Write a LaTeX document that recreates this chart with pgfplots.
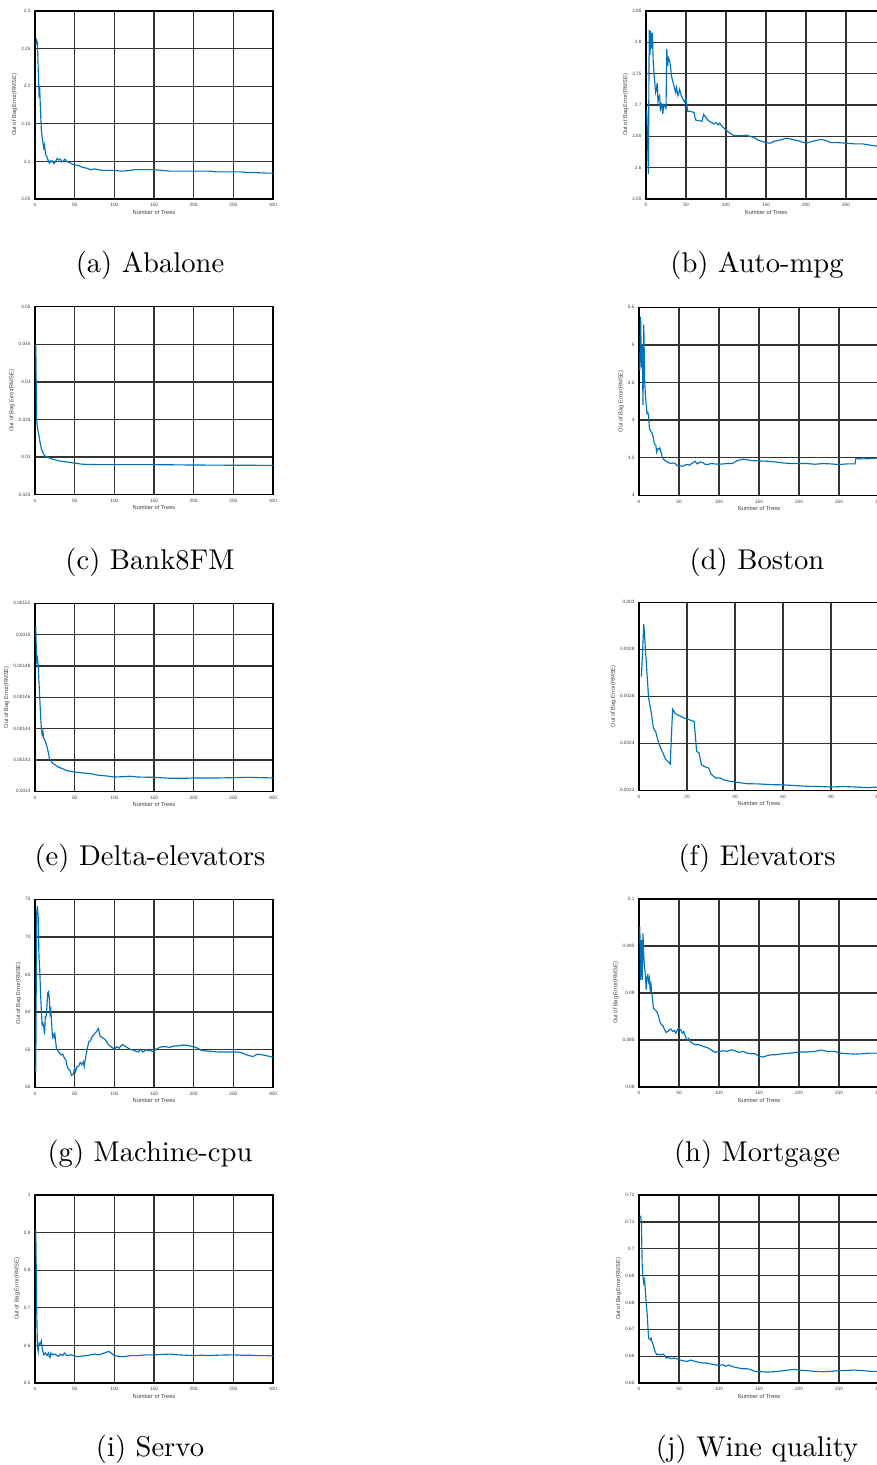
\documentclass[border=0pt]{standalone}
\usepackage{fontspec}
\usepackage{pgfplots}
\pgfplotsset{compat=1.18}
\newfontfamily\arial{Liberation Sans}
\definecolor{mblue}{RGB}{0,114,189}
\pgfplotsset{
  myax/.style={
    scale only axis, height=65.8pt, xmin=0, xmax=300, anchor=north west,
    scaled ticks=false,
    grid=major, major grid style={black!80, line width=0.45pt},
    axis line style={black, line width=0.45pt},
    tick style={draw=none},
    tick label style={font=\arial\fontsize{1.65}{2}\selectfont, text=black!75, inner sep=0.6pt},
    xticklabel style={yshift=-0.8pt},
    yticklabel style={xshift=-0.8pt},
    label style={font=\arial\fontsize{2}{2.4}\selectfont, text=black!75, inner sep=0.6pt},
    xlabel={Number of Trees}, ylabel={Out of Bag Error(RMSE)},
    xlabel style={at={(axis description cs:0.5,0)}, anchor=center, yshift=-4.6pt},
    xtick={0,50,100,150,200,250,300}, xticklabels={0,50,100,150,200,250,300},
  },
  lft/.style={myax, width=83.3pt},
  rgt/.style={myax, width=84pt},
  cv/.style={mblue, line width=0.4pt, mark=none},
}
\begin{document}
\begin{tikzpicture}
\useasboundingbox (0,0) rectangle (306.95pt,-512.75pt);
\clip (0,0) rectangle (306.95pt,-512.75pt);

% (a) Abalone
\begin{axis}[lft, at={(12.25pt,-3.85pt)}, ymin=2.05, ymax=2.3,
  ytick={2.05,2.1,2.15,2.2,2.25,2.3}, yticklabels={2.05,2.1,2.15,2.2,2.25,2.3}]
\addplot[cv] coordinates {(1,2.255)(2,2.261)(3,2.258)(4,2.225)(5,2.19)(6,2.195)(7,2.165)(8,2.142)(9,2.132)(10,2.125)(11,2.118)(12,2.122)(13,2.112)(14,2.108)(15,2.106)(16,2.103)(17,2.100)(18,2.098)(19,2.101)(20,2.099)(22,2.101)(24,2.097)(26,2.100)(28,2.104)(30,2.102)(32,2.103)(34,2.099)(36,2.101)(38,2.103)(40,2.100)(44,2.098)(48,2.096)(52,2.095)(56,2.094)(60,2.092)(65,2.091)(70,2.089)(75,2.090)(80,2.089)(85,2.088)(90,2.088)(100,2.088)(110,2.087)(120,2.088)(125,2.089)(130,2.089)(140,2.089)(150,2.089)(160,2.088)(170,2.087)(180,2.087)(190,2.087)(200,2.087)(210,2.087)(220,2.087)(230,2.086)(240,2.086)(250,2.086)(260,2.086)(270,2.085)(280,2.085)(290,2.0845)(300,2.0843)};
\end{axis}

% (b) Auto-mpg
\begin{axis}[rgt, at={(226.1pt,-3.85pt)}, ymin=2.55, ymax=2.85,
  ytick={2.55,2.6,2.65,2.7,2.75,2.8,2.85}, yticklabels={2.55,2.6,2.65,2.7,2.75,2.8,2.85}]
\addplot[cv] coordinates {(1,2.69)(2,2.64)(3,2.59)(4,2.82)(5,2.78)(6,2.818)(7,2.79)(8,2.815)(9,2.77)(10,2.75)(11,2.735)(12,2.72)(13,2.725)(14,2.735)(15,2.705)(16,2.712)(17,2.715)(18,2.69)(19,2.702)(20,2.70)(21,2.686)(22,2.70)(23,2.698)(24,2.70)(25,2.693)(26,2.789)(27,2.762)(28,2.775)(29,2.772)(30,2.768)(32,2.745)(35,2.73)(37,2.72)(38,2.728)(40,2.715)(42,2.725)(44,2.715)(46,2.71)(48,2.705)(50,2.71)(52,2.69)(55,2.69)(60,2.688)(62,2.676)(70,2.674)(72,2.685)(75,2.68)(78,2.675)(82,2.672)(85,2.67)(88,2.672)(90,2.668)(92,2.671)(95,2.666)(100,2.66)(105,2.655)(110,2.651)(120,2.651)(125,2.652)(130,2.65)(135,2.648)(140,2.644)(150,2.64)(155,2.639)(160,2.642)(170,2.645)(175,2.647)(180,2.646)(190,2.643)(200,2.639)(205,2.641)(215,2.644)(220,2.645)(228,2.642)(230,2.64)(240,2.64)(250,2.639)(260,2.638)(270,2.638)(280,2.636)(290,2.634)(300,2.632)};
\end{axis}

% (c) Bank8FM
\begin{axis}[lft, at={(12.25pt,-107.35pt)}, ymin=0.025, ymax=0.05,
  ytick={0.025,0.03,0.035,0.04,0.045,0.05}, yticklabels={0.025,0.03,0.035,0.04,0.045,0.05}]
\addplot[cv] coordinates {(1,0.045)(2,0.0351)(3,0.0340)(4,0.0334)(5,0.0329)(6,0.0322)(7,0.0316)(8,0.0311)(10,0.0306)(12,0.0302)(15,0.0300)(20,0.0298)(25,0.02965)(30,0.0295)(40,0.02935)(50,0.0292)(60,0.02905)(80,0.0290)(100,0.0290)(150,0.0290)(200,0.02895)(250,0.02892)(300,0.0289)};
\end{axis}

% (d) Boston
\begin{axis}[rgt, at={(223.65pt,-107.55pt)}, ymin=3, ymax=5.5,
  ytick={3,3.5,4,4.5,5,5.5}, yticklabels={3,3.5,4,4.5,5,5.5}]
\addplot[cv] coordinates {(1,4.665)(2,5.376)(3,4.70)(4,5.0)(5,4.20)(6,5.27)(7,4.554)(8,4.332)(9,4.20)(10,4.088)(11,4.10)(12,4.066)(13,3.888)(14,3.87)(15,3.844)(16,3.835)(17,3.80)(18,3.76)(19,3.688)(20,3.675)(21,3.666)(22,3.577)(23,3.613)(24,3.622)(25,3.613)(26,3.63)(27,3.59)(28,3.555)(29,3.51)(30,3.488)(32,3.466)(35,3.444)(38,3.43)(40,3.422)(43,3.43)(45,3.426)(47,3.40)(50,3.391)(55,3.386)(58,3.404)(60,3.409)(63,3.40)(66,3.422)(70,3.453)(73,3.417)(76,3.444)(80,3.435)(83,3.409)(86,3.409)(90,3.422)(95,3.417)(100,3.413)(105,3.417)(110,3.422)(115,3.422)(118,3.43)(122,3.457)(126,3.471)(130,3.479)(135,3.475)(140,3.462)(150,3.457)(160,3.453)(170,3.444)(180,3.43)(190,3.422)(200,3.422)(210,3.422)(220,3.413)(230,3.422)(240,3.417)(250,3.409)(260,3.417)(270,3.417)(271,3.488)(280,3.484)(290,3.488)(300,3.497)};
\end{axis}

% (e) Delta-elevators
\begin{axis}[lft, at={(12.25pt,-211.15pt)}, ymin=0.0014, ymax=0.00152,
  ytick={0.0014,0.00142,0.00144,0.00146,0.00148,0.0015,0.00152}, yticklabels={0.0014,0.00142,0.00144,0.00146,0.00148,0.0015,0.00152}]
\addplot[cv] coordinates {(1,0.0015051)(2,0.0014828)(3,0.0014850)(4,0.0014807)(5,0.0014701)(6,0.0014595)(7,0.0014488)(8,0.0014403)(9,0.0014361)(10,0.0014382)(11,0.001434)(13,0.0014319)(15,0.0014287)(17,0.0014244)(18,0.0014212)(20,0.0014195)(22,0.001418)(25,0.001417)(30,0.0014153)(35,0.0014144)(40,0.0014132)(50,0.0014123)(60,0.0014117)(70,0.0014113)(80,0.0014102)(90,0.0014098)(100,0.0014091)(110,0.0014093)(120,0.0014096)(130,0.0014091)(150,0.0014089)(170,0.0014083)(190,0.0014083)(200,0.0014085)(230,0.0014085)(250,0.0014087)(270,0.0014089)(300,0.0014085)};
\end{axis}

% (f) Elevators
\begin{axis}[rgt, at={(223.65pt,-210.8pt)}, xmax=100, ymin=0.0022, ymax=0.003,
  xtick={0,20,40,60,80,100}, xticklabels={0,20,40,60,80,100},
  ytick={0.0022,0.0024,0.0026,0.0028,0.003}, yticklabels={0.0022,0.0024,0.0026,0.0028,0.003}]
\addplot[cv] coordinates {(1,0.002684)(2,0.002907)(3,0.002748)(4,0.002592)(5,0.002536)(6,0.002465)(7,0.002448)(8,0.002408)(9,0.00238)(10,0.002359)(11,0.002333)(12,0.002323)(13,0.002312)(14,0.002545)(15,0.002528)(16,0.002521)(17,0.002517)(18,0.002511)(19,0.002507)(20,0.002504)(21,0.0025)(22,0.002496)(23,0.002493)(24,0.002366)(25,0.002359)(26,0.002309)(27,0.002302)(28,0.002298)(29,0.002295)(30,0.002269)(31,0.00226)(32,0.002252)(34,0.002252)(35,0.002245)(37,0.00224)(40,0.002235)(45,0.002228)(50,0.002227)(55,0.002224)(60,0.002223)(65,0.00222)(70,0.002217)(75,0.002216)(80,0.002214)(85,0.002216)(90,0.002214)(95,0.002211)(100,0.002214)};
\end{axis}

% (g) Machine-cpu
\begin{axis}[lft, at={(12.25pt,-314.75pt)}, ymin=50, ymax=75,
  ytick={50,55,60,65,70,75}, yticklabels={50,55,60,65,70,75}]
\addplot[cv] coordinates {(1,52.1)(2,73.0)(3,74.1)(4,72.7)(5,67.4)(6,65.6)(7,62.5)(8,60.3)(9,58.3)(10,58.5)(11,58.1)(12,57.0)(13,59.4)(14,59.4)(15,60.7)(16,62.5)(17,62.7)(18,61.8)(19,59.8)(20,60.3)(21,58.5)(22,56.7)(23,57.0)(24,56.7)(25,57.1)(27,55.2)(28,55.0)(30,54.7)(33,54.3)(35,54.4)(37,53.9)(39,53.6)(40,53.0)(42,52.4)(44,52.3)(46,51.6)(48,51.7)(50,52.5)(51,52.1)(53,52.75)(55,52.8)(57,53.3)(59,53.0)(61,53.4)(62,52.75)(64,54.1)(66,55.2)(68,56.1)(70,56.2)(72,56.7)(74,57.0)(76,57.2)(78,57.5)(80,57.8)(82,56.8)(85,56.6)(88,56.4)(90,56.1)(93,55.6)(96,55.4)(100,55.05)(103,55.4)(106,55.2)(110,55.7)(113,55.5)(116,55.3)(120,55.05)(125,54.9)(130,54.7)(133,55.05)(136,54.7)(140,54.96)(145,54.9)(150,54.7)(152,55.05)(155,55.2)(160,55.4)(165,55.4)(170,55.3)(175,55.5)(180,55.5)(185,55.6)(190,55.6)(195,55.5)(200,55.4)(205,55.2)(210,54.9)(220,54.8)(230,54.7)(240,54.7)(250,54.7)(255,54.7)(260,54.6)(265,54.4)(270,54.2)(275,54.1)(280,54.4)(290,54.25)(300,54.0)};
\end{axis}

% (h) Mortgage
\begin{axis}[rgt, at={(223.65pt,-314.65pt)}, ymin=0.08, ymax=0.1,
  ytick={0.08,0.085,0.09,0.095,0.1}, yticklabels={0.08,0.085,0.09,0.095,0.1}]
\addplot[cv] coordinates {(1,0.09706)(2,0.0914)(3,0.09565)(4,0.0914)(5,0.09635)(6,0.09388)(7,0.09281)(8,0.09175)(9,0.09034)(10,0.09175)(11,0.09193)(12,0.09122)(13,0.09158)(14,0.09016)(15,0.09087)(16,0.08998)(17,0.08927)(18,0.08839)(20,0.08821)(22,0.08804)(24,0.08768)(26,0.08697)(28,0.08662)(30,0.08651)(32,0.08609)(34,0.0858)(36,0.08591)(38,0.08609)(40,0.08616)(42,0.08591)(44,0.08602)(46,0.08573)(48,0.08609)(50,0.08627)(52,0.08609)(54,0.08573)(56,0.08591)(58,0.08538)(60,0.08496)(62,0.08517)(65,0.08474)(68,0.0846)(70,0.0845)(75,0.0845)(80,0.08432)(85,0.08421)(90,0.08396)(95,0.08368)(100,0.08379)(105,0.08386)(110,0.08379)(115,0.08396)(120,0.08386)(125,0.08368)(130,0.08379)(135,0.08361)(140,0.08354)(145,0.08354)(150,0.08326)(155,0.08319)(160,0.08333)(165,0.08343)(170,0.08343)(180,0.08354)(190,0.08361)(200,0.08372)(210,0.08372)(220,0.08379)(228,0.08393)(235,0.08379)(245,0.08379)(250,0.08361)(260,0.08354)(270,0.0835)(280,0.08354)(290,0.08361)(300,0.08361)};
\end{axis}

% (i) Servo
\begin{axis}[lft, at={(12.25pt,-418.25pt)}, ymin=0.5, ymax=1,
  ytick={0.5,0.6,0.7,0.8,0.9,1}, yticklabels={0.5,0.6,0.7,0.8,0.9,1}]
\addplot[cv] coordinates {(1,0.907)(2,0.717)(3,0.602)(4,0.584)(5,0.606)(6,0.602)(7,0.606)(8,0.612)(9,0.593)(10,0.584)(11,0.575)(13,0.580)(15,0.573)(17,0.580)(18,0.571)(19,0.568)(20,0.580)(22,0.575)(25,0.577)(28,0.573)(30,0.571)(32,0.577)(35,0.573)(37,0.580)(40,0.573)(45,0.575)(50,0.572)(55,0.570)(60,0.572)(65,0.573)(70,0.575)(75,0.577)(80,0.575)(85,0.578)(90,0.582)(93,0.584)(96,0.580)(100,0.573)(105,0.571)(110,0.570)(115,0.571)(120,0.573)(130,0.573)(140,0.575)(150,0.575)(160,0.576)(170,0.577)(180,0.575)(190,0.574)(200,0.573)(210,0.574)(220,0.573)(230,0.574)(250,0.575)(260,0.574)(270,0.574)(280,0.573)(290,0.573)(300,0.572)};
\end{axis}

% (j) Wine quality
\begin{axis}[rgt, at={(223.65pt,-418.25pt)}, ymin=0.65, ymax=0.72,
  ytick={0.65,0.66,0.67,0.68,0.69,0.7,0.71,0.72}, yticklabels={0.65,0.66,0.67,0.68,0.69,0.7,0.71,0.72}]
\addplot[cv] coordinates {(1,0.71158)(2,0.71195)(3,0.71009)(4,0.69336)(5,0.68964)(6,0.68717)(7,0.68841)(8,0.68407)(9,0.67973)(10,0.67664)(11,0.67168)(12,0.66672)(13,0.66647)(14,0.6661)(15,0.66672)(16,0.66548)(17,0.66486)(18,0.66387)(20,0.66177)(22,0.66053)(24,0.66078)(26,0.66053)(28,0.66053)(30,0.66078)(32,0.66028)(34,0.65929)(36,0.65954)(40,0.65904)(45,0.65929)(50,0.65867)(55,0.6583)(60,0.65805)(65,0.65855)(70,0.65805)(75,0.65768)(80,0.65743)(85,0.65743)(90,0.65706)(95,0.65681)(100,0.65656)(105,0.65681)(108,0.65619)(112,0.65669)(115,0.65631)(120,0.65582)(125,0.65557)(130,0.65532)(135,0.65532)(140,0.65495)(145,0.65433)(150,0.65421)(160,0.65408)(170,0.65421)(180,0.65458)(190,0.65495)(195,0.65508)(200,0.65483)(210,0.65458)(220,0.65433)(230,0.65421)(240,0.65433)(250,0.65458)(260,0.6547)(270,0.65483)(280,0.65458)(290,0.65433)(300,0.65433)};
\end{axis}

% captions
\begin{scope}[every node/.style={anchor=base, font=\rmfamily\fontsize{10}{12}\selectfont, inner sep=0pt}]
\node at (52.5pt,-95.55pt) {(a) Abalone};
\node at (264.95pt,-95.55pt) {(b) Auto-mpg};
\node at (52.5pt,-199.15pt) {(c) Bank8FM};
\node at (264.95pt,-199.15pt) {(d) Boston};
\node at (52.5pt,-302.75pt) {(e) Delta-elevators};
\node at (264.95pt,-302.75pt) {(f) Elevators};
\node at (52.5pt,-406.35pt) {(g) Machine-cpu};
\node at (264.95pt,-406.35pt) {(h) Mortgage};
\node at (52.5pt,-509.6pt) {(i) Servo};
\node at (264.95pt,-509.6pt) {(j) Wine quality};
\end{scope}
\end{tikzpicture}
\end{document}
